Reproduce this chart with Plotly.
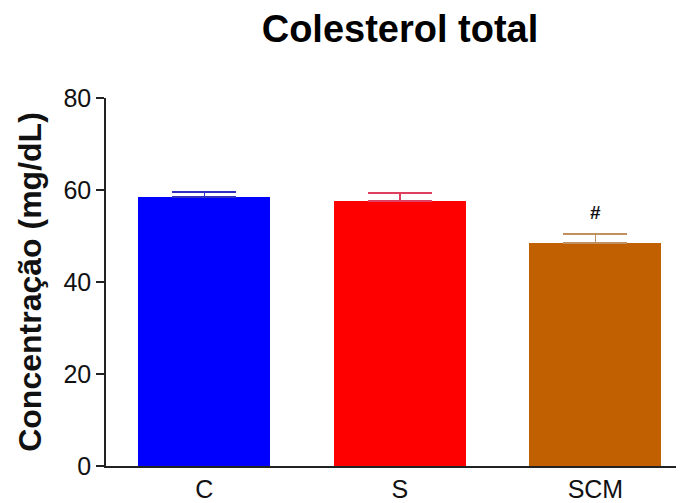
import plotly.graph_objects as go

categories = ["C", "S", "SCM"]
values = [58.5, 57.6, 48.5]
errors = [1.1, 1.8, 1.9]
colors = ["#0000FF", "#FF0000", "#C06000"]
err_colors = ["#3030C0", "#E04060", "#C09060"]
y_ticks = [0, 20, 40, 60, 80]
marks = ["", "", "#"]

fig = go.Figure()
for i, c in enumerate(categories):
    fig.add_trace(go.Bar(
        x=[i], y=[values[i]], width=0.675,
        marker=dict(color=colors[i], line=dict(width=0)),
        error_y=dict(type="data", array=[errors[i]], arrayminus=[0], symmetric=False,
                     color=err_colors[i], thickness=1.5, width=32),
        showlegend=False, hoverinfo="skip"))
    if marks[i]:
        fig.add_annotation(x=i, y=values[i] + errors[i], text="<b>" + marks[i] + "</b>",
                           showarrow=False, yanchor="bottom", yshift=9,
                           font=dict(family="Liberation Sans, Arial", size=19, color="#111"))

fig.update_layout(
    width=684, height=503,
    margin=dict(l=98, r=0, t=90, b=45),
    plot_bgcolor="white", paper_bgcolor="white",
    title=dict(text="<b>Colesterol total</b>", x=392/684, xanchor="center",
               y=1-21/503, yanchor="middle",
               font=dict(family="Liberation Sans, Arial", size=38, color="black")),
    font=dict(family="Liberation Sans, Arial", color="#111"),
    bargap=0,
)
fig.update_xaxes(
    range=[-0.503, 2.494], tickmode="array", tickvals=list(range(len(categories))),
    ticktext=categories, showline=True, linecolor="#222", linewidth=1.5,
    ticks="", showgrid=False, zeroline=False, tickfont=dict(size=25), automargin=False)
fig.update_yaxes(
    range=[0, 80], tickvals=y_ticks, showline=True, linecolor="#222", linewidth=1.5,
    ticks="outside", ticklen=8, tickwidth=1.5, tickcolor="#222",
    showgrid=False, zeroline=False, tickfont=dict(size=25), automargin=False,
    title=dict(text="<b>Concentração (mg/dL)</b>", font=dict(size=32), standoff=12))

fig.write_html("out.html")
